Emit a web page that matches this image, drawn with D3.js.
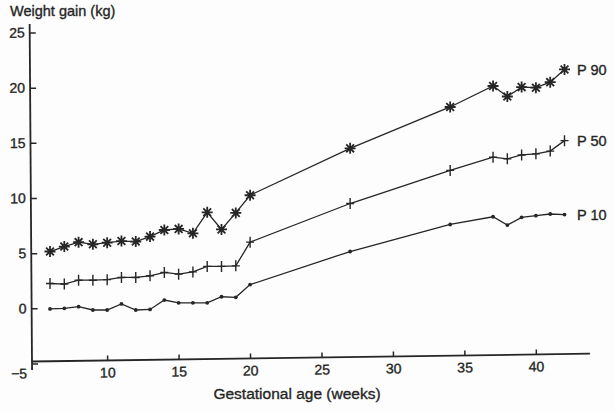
<!DOCTYPE html>
<html>
<head>
<meta charset="utf-8">
<script src="https://cdn.jsdelivr.net/npm/d3@7"></script>
<style>
  body { margin: 0; background: #fdfdfd; }
  svg { display: block; font-family: "Liberation Sans", Arial, sans-serif; }
  svg text { stroke: #262626; stroke-width: 0.35px; }
</style>
</head>
<body>
<svg id="chart" width="614" height="411"></svg>
<script>
// gestational week of each measurement
const weeks = [6, 7, 8, 9, 10, 11, 12, 13, 14, 15, 16, 17, 18, 19, 20, 27, 34, 37, 38, 39, 40, 41, 42];
// weight gain (kg) per percentile
const p90 = [5.15, 5.6, 6.0, 5.8, 5.95, 6.1, 6.05, 6.5, 7.1, 7.2, 6.8, 8.7, 7.15, 8.65, 10.25, 14.5, 18.25, 20.15, 19.2, 20.05, 20.0, 20.5, 21.65];
const p50 = [2.25, 2.2, 2.55, 2.55, 2.6, 2.8, 2.8, 2.95, 3.25, 3.1, 3.3, 3.8, 3.8, 3.85, 6.0, 9.5, 12.5, 13.7, 13.55, 13.9, 14.0, 14.25, 15.2];
const p10 = [-0.05, 0, 0.15, -0.15, -0.15, 0.4, -0.15, -0.1, 0.75, 0.5, 0.5, 0.5, 1.05, 1.0, 2.15, 5.15, 7.6, 8.3, 7.55, 8.25, 8.4, 8.55, 8.5];
const seriesNames = ["P 90", "P 50", "P 10"];
const xTicks = [10, 15, 20, 25, 30, 35, 40];
const yTicks = [-5, 0, 5, 10, 15, 20, 25];

let ink = "#262626";
let svg = d3.select("#chart");

let xScale = d3.scaleLinear()
  .domain([6, 42])
  .range([50, 564.5]);
let yScale = d3.scaleLinear()
  .domain([-5, 25])
  .range([363.5, 32.5]);

let axisX0 = 32; // where the two axes meet
let axisY0 = 361.5;

// y axis, ticks pointing inward
let yAxis = svg.append("g")
  .attr("transform", "translate(" + axisX0 + ",0) rotate(-0.4,0," + axisY0 + ")")
  .call(d3.axisLeft(yScale).tickValues(yTicks).tickSizeInner(-6).tickSizeOuter(0).tickPadding(5));
yAxis.select(".domain").remove();
yAxis.append("line")
  .attr("x1", 0).attr("x2", 0)
  .attr("y1", 24).attr("y2", 370)
  .style("stroke", ink).style("stroke-width", 1.8);
yAxis.selectAll(".tick line").style("stroke", ink).style("stroke-width", 1.5);
yAxis.selectAll(".tick text")
  .style("font-size", "14px")
  .style("fill", ink)
  .attr("y", d => d == -5 ? 10 : 0);

// x axis, drawn slightly tilted as in the scan
let xAxis = svg.append("g")
  .attr("transform", "translate(0," + axisY0 + ") rotate(-0.8," + axisX0 + ",0)")
  .call(d3.axisBottom(xScale).tickValues(xTicks).tickSizeInner(-5).tickSizeOuter(0).tickPadding(7));
xAxis.select(".domain").remove();
xAxis.append("line")
  .attr("x1", axisX0).attr("x2", 590)
  .attr("y1", 0).attr("y2", 0)
  .style("stroke", ink).style("stroke-width", 1.8);
xAxis.selectAll(".tick line").style("stroke", ink).style("stroke-width", 1.5);
xAxis.selectAll(".tick text").style("font-size", "14px").style("fill", ink);

// axis titles
svg.append("text")
  .attr("x", 10)
  .attr("y", 16)
  .text("Weight gain (kg)")
  .style("font-size", "14.5px")
  .style("fill", ink);
svg.append("text")
  .attr("x", 297)
  .attr("y", 399)
  .attr("text-anchor", "middle")
  .text("Gestational age (weeks)")
  .style("font-size", "15.5px")
  .style("fill", ink);

let series = [p90, p50, p10].map((vals, i) => ({
  name: seriesNames[i],
  marker: ["star", "plus", "dot"][i],
  points: weeks.map((w, j) => ({ w: w, v: vals[j] }))
}));

let line = d3.line()
  .x(d => xScale(d.w))
  .y(d => yScale(d.v));

function markerPath(type) {
  if (type == "star") {
    let r = 5.5, p = d3.path();
    for (let a = 0; a < 4; a++) {
      let t = a * Math.PI / 4;
      p.moveTo(-r * Math.cos(t), -r * Math.sin(t));
      p.lineTo(r * Math.cos(t), r * Math.sin(t));
    }
    return p.toString();
  }
  // plus: tall upright stroke, short crossbar
  return "M0,-5.5L0,5.5M-4,0L4,0";
}

let groups = svg.selectAll(".series")
  .data(series)
  .enter()
  .append("g")
    .attr("class", "series");

groups.append("path")
  .attr("d", d => line(d.points))
  .style("fill", "none")
  .style("stroke", ink)
  .style("stroke-width", 1.3);

groups.each(function(s) {
  let g = d3.select(this);
  if (s.marker == "dot") {
    g.selectAll("circle")
      .data(s.points)
      .enter()
      .append("circle")
        .attr("cx", d => xScale(d.w))
        .attr("cy", d => yScale(d.v))
        .attr("r", 1.9)
        .style("fill", ink);
  } else {
    g.selectAll(".mark")
      .data(s.points)
      .enter()
      .append("path")
        .attr("class", "mark")
        .attr("transform", d => "translate(" + xScale(d.w) + "," + yScale(d.v) + ")")
        .attr("d", markerPath(s.marker))
        .style("fill", "none")
        .style("stroke", ink)
        .style("stroke-width", s.marker == "star" ? 1.8 : 1.4);
  }
});

// end labels
groups.append("text")
  .attr("x", d => xScale(d.points[d.points.length - 1].w) + 12.5)
  .attr("y", d => yScale(d.points[d.points.length - 1].v))
  .attr("dy", "0.35em")
  .text(d => d.name)
  .style("font-size", "14.5px")
  .style("fill", ink);
</script>
</body>
</html>
